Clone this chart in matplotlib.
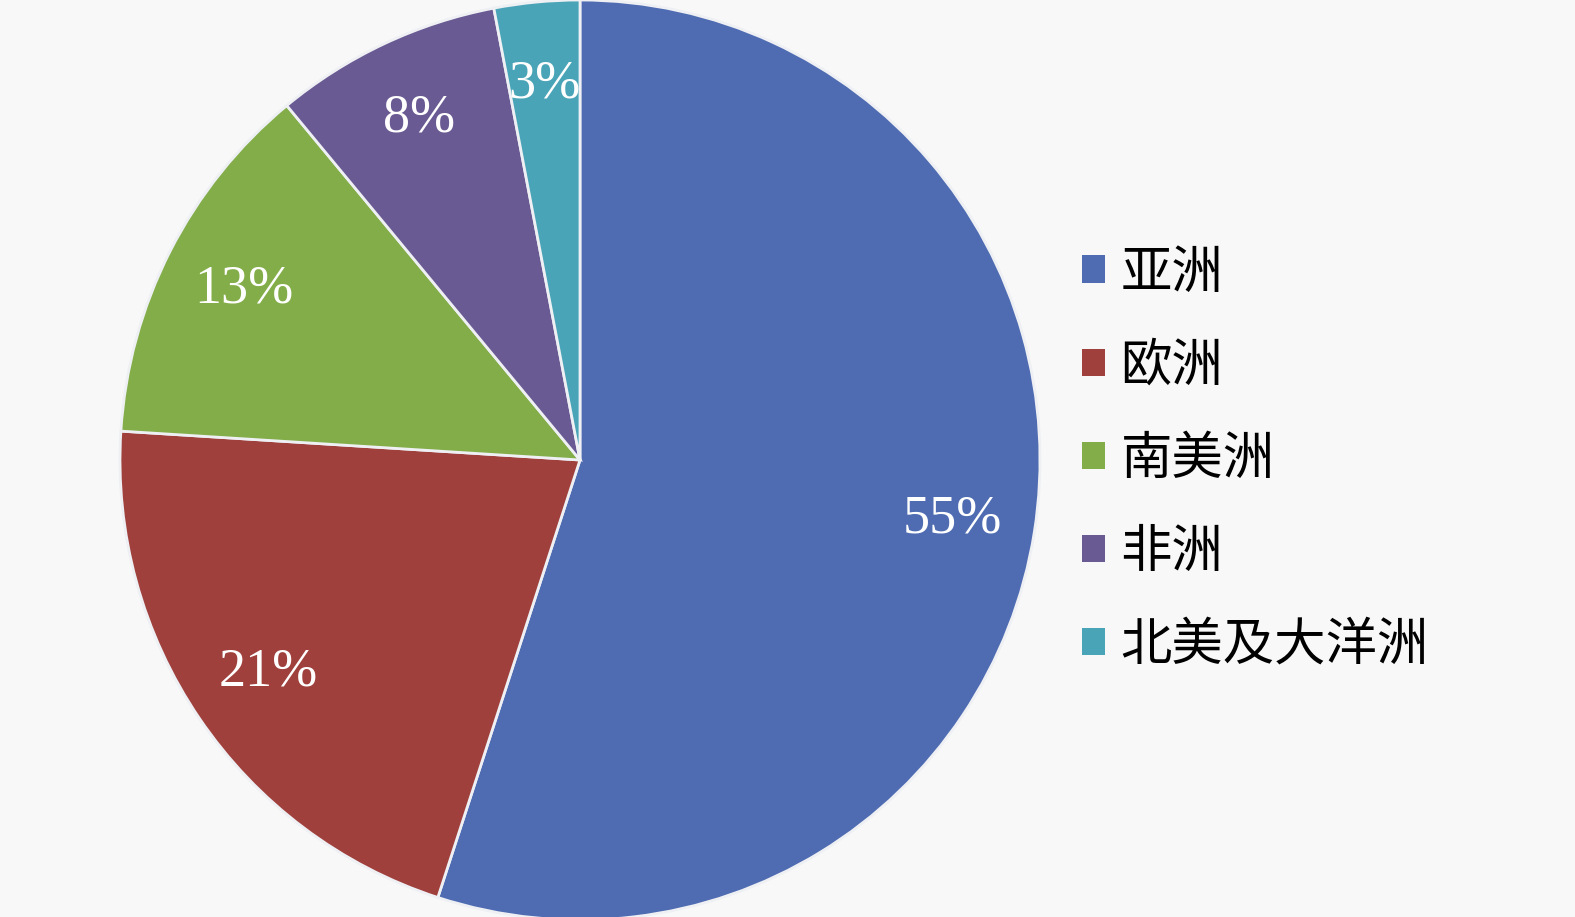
import matplotlib.pyplot as plt
import numpy as np

regions = ["亚洲", "欧洲", "南美洲", "非洲", "北美及大洋洲"]
shares = [55, 21, 13, 8, 3]
colors = ["#4f6cb2", "#a0403c", "#83ad48", "#6a5a93", "#4aa4b7"]

plt.rcParams['font.family'] = ['Noto Sans CJK SC', 'DejaVu Sans']

W, H = 1575, 917
fig = plt.figure(figsize=(W / 100, H / 100), dpi=100, facecolor="#f8f8f8")

# square axes holding the pie, sized in pixels
cx, cy, r = 580, 460, 460
ax = fig.add_axes([(cx - r) / W, 1 - (cy + r) / H, 2 * r / W, 2 * r / H])
ax.set_facecolor("none")

wedges, _, autotexts = ax.pie(
    shares, colors=colors, startangle=90, counterclock=False,
    radius=1.0, autopct="%d%%", pctdistance=0.82,
    wedgeprops=dict(edgecolor="#eef0f4", linewidth=2),
    textprops=dict(color="white", fontsize=39, family="Liberation Serif"),
)
ax.set_xlim(-1.0, 1.0)
ax.set_ylim(-1.0, 1.0)
ax.axis("off")

handles = [plt.Rectangle((0, 0), 1, 1, facecolor=c, edgecolor="none") for c in colors]
fig.legend(handles, regions, loc="center left",
           bbox_to_anchor=(1082 / W, 1 - 459 / H),
           frameon=False, fontsize=37, handlelength=0.45, handleheight=0.45,
           handletextpad=0.3, labelspacing=0.77, borderpad=0, borderaxespad=0)

fig.savefig("out.png", dpi=100, facecolor=fig.get_facecolor())
